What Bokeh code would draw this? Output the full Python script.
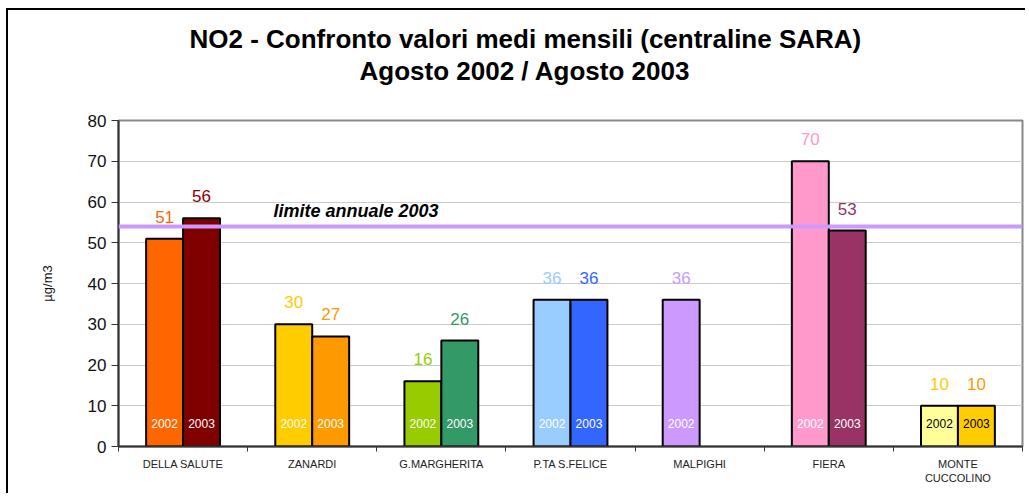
from bokeh.plotting import figure
from bokeh.models import ColumnDataSource, FixedTicker, Span, Label, Title
from bokeh.core.properties import value
from bokeh.embed import file_html
from bokeh.resources import INLINE

# ---- data ----
stations = ["DELLA SALUTE", "ZANARDI", "G.MARGHERITA", "P.TA S.FELICE",
            "MALPIGHI", "FIERA", "MONTE\nCUCCOLINO"]
v2002 = [51, 30, 16, 36, 36, 70, 10]
v2003 = [56, 27, 26, 36, None, 53, 10]
fill2002 = ["#FF6600", "#FFCC00", "#99CC00", "#99CCFF", "#CC99FF", "#FF99CC", "#FFFF99"]
fill2003 = ["#800000", "#FF9900", "#339966", "#3366FF", "#FFFFFF", "#993366", "#FFCC00"]
lab2002 = ["#FF6600", "#FFCC00", "#99CC00", "#99CCFF", "#CC99FF", "#FF99CC", "#FFCC00"]
lab2003 = ["#8B0000", "#FF9900", "#339966", "#3366FF", "#FFFFFF", "#993366", "#FF9900"]
year_col = ["white", "white", "white", "white", "white", "white", "black"]
limit_value = 54
limit_text = "limite annuale 2003"
title1 = "NO2 - Confronto valori medi mensili (centraline SARA)"
title2 = "Agosto 2002 / Agosto 2003"
y_ticks = [0, 10, 20, 30, 40, 50, 60, 70, 80]

FONT = "Liberation Sans"
BAR_W = 0.286
OFF = 0.143

def build(vals, fills, labs, year, sign):
    xs, ys, fc, lc, yc, txt, yt = [], [], [], [], [], [], []
    for i, v in enumerate(vals):
        if v is None:
            continue
        xs.append(i + 0.5 + sign * OFF)
        ys.append(v)
        fc.append(fills[i])
        lc.append(labs[i])
        yc.append(year_col[i])
        txt.append(str(v))
        yt.append(year)
    return ColumnDataSource(dict(x=xs, top=ys, fill=fc, lab=lc, ycol=yc, txt=txt, year=yt))

s02 = build(v2002, fill2002, lab2002, "2002", -1)
s03 = build(v2003, fill2003, lab2003, "2003", +1)

p = figure(width=1019, height=485, x_range=(0, len(stations)), y_range=(0, 80),
           output_backend="svg", toolbar_location=None, title=None,
           min_border_left=110, min_border_right=5, min_border_top=110, min_border_bottom=49)
p.styles = {"border-left": "2px solid #000", "border-top": "2px solid #000",
            "margin-left": "6px", "margin-top": "8px"}

p.outline_line_color = "#888888"
p.outline_line_width = 2
p.xgrid.grid_line_color = None
p.ygrid.grid_line_color = "#cccccc"
p.ygrid.ticker = FixedTicker(ticks=y_ticks)

# y axis
p.yaxis.ticker = FixedTicker(ticks=y_ticks)
p.yaxis.axis_line_color = "#333333"
p.yaxis.axis_line_width = 2
p.yaxis.major_tick_line_color = "#333333"
p.yaxis.major_tick_out = 7
p.yaxis.major_tick_in = 0
p.yaxis.minor_tick_line_color = None
p.yaxis.major_label_text_font = FONT
p.yaxis.major_label_text_font_size = "17px"
p.yaxis.major_label_text_color = "#111111"
p.yaxis.major_label_standoff = 5
p.yaxis.axis_label = "µg/m3"
p.yaxis.axis_label_text_font = FONT
p.yaxis.axis_label_text_font_size = "13px"
p.yaxis.axis_label_text_font_style = "normal"
p.yaxis.axis_label_text_color = "#111111"
p.yaxis.axis_label_standoff = 30

# x axis: labels at centres, ticks at boundaries (minor)
centres = [i + 0.5 for i in range(len(stations))]
p.xaxis.ticker = FixedTicker(ticks=centres, minor_ticks=list(range(len(stations) + 1)))
p.xaxis.major_label_overrides = {c: s for c, s in zip(centres, stations)}
p.xaxis.axis_line_color = "#333333"
p.xaxis.axis_line_width = 2
p.xaxis.major_tick_out = 0
p.xaxis.major_tick_in = 0
p.xaxis.minor_tick_out = 5
p.xaxis.minor_tick_in = 0
p.xaxis.minor_tick_line_color = "#333333"
p.xaxis.minor_tick_line_width = 1
p.xaxis.major_label_text_font = FONT
p.xaxis.major_label_text_font_size = "11px"
p.xaxis.major_label_text_color = "#222222"
p.xaxis.major_label_standoff = 6

# bars
for src in (s02, s03):
    p.vbar(x="x", top="top", bottom=0, width=BAR_W, source=src,
           fill_color="fill", line_color="black", line_width=2)
    p.text(x="x", y="top", text="txt", source=src, text_color="lab",
           text_font=value(FONT), text_font_size="17px",
           text_align="center", text_baseline="bottom", y_offset=-16)
    p.text(x="x", y=0, text="year", source=src, text_color="ycol",
           text_font=value(FONT), text_font_size="12px",
           text_align="center", text_baseline="middle", y_offset=-23)

# limit line
p.add_layout(Span(location=limit_value, dimension="width",
                  line_color="#CC99FF", line_width=4))
p.add_layout(Label(x=1.2, y=57.9, text=limit_text, text_font=FONT,
                   text_font_size="18px", text_font_style="bold italic",
                   text_color="black", text_baseline="alphabetic"))

# titles (stacked outward from the frame); first an empty spacer
p.add_layout(Title(text=" ", text_font_size="1px", standoff=32), "above")
p.add_layout(Title(text=title2, align="left", offset=241, standoff=0,
                   text_font=FONT, text_font_size="26px", text_font_style="bold",
                   text_color="black"), "above")
p.add_layout(Title(text=title1, align="left", offset=71, standoff=0,
                   text_font=FONT, text_font_size="26px", text_font_style="bold",
                   text_color="black"), "above")

open("out.html", "w").write(file_html(p, INLINE))
